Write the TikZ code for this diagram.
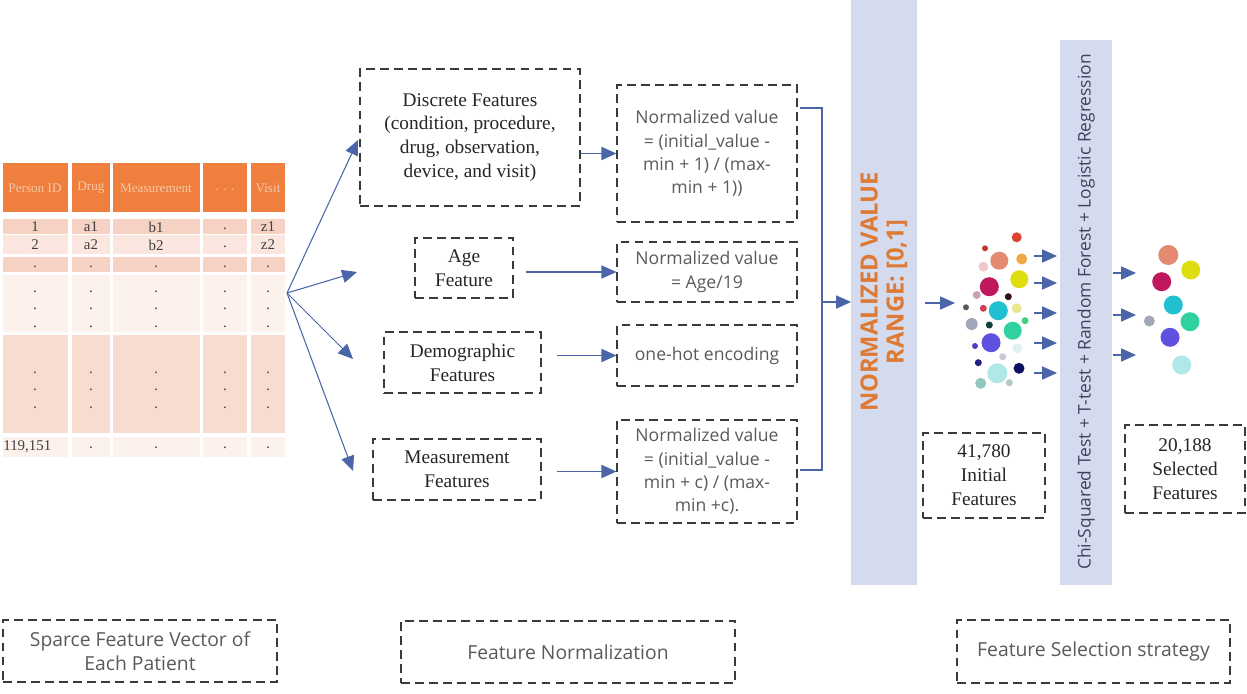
\documentclass[tikz,border=0pt]{standalone}
\usepackage{fontspec}
\setmainfont{Liberation Serif}
\newfontfamily\sansf{Open Sans}
\usetikzlibrary{arrows.meta}
\definecolor{arrowblue}{HTML}{4A66A8}
\definecolor{boxline}{HTML}{3A3A3A}
\definecolor{graytext}{HTML}{5A5A5A}
\definecolor{barfill}{HTML}{D5DBEE}
\definecolor{orangetxt}{HTML}{DE7A33}
\definecolor{hdr}{HTML}{EE7F3C}
\definecolor{hdrtxt}{HTML}{F8C8A8}
\definecolor{pinkA}{HTML}{F6D2C5}
\definecolor{pinkB}{HTML}{FBE7E0}
\definecolor{pinkC}{HTML}{FDF1EC}
\definecolor{pinkD}{HTML}{F9DCD1}
\definecolor{celltxt}{HTML}{404040}
\definecolor{bartxt}{HTML}{3C4260}
\tikzset{
  dbox/.style={draw=boxline, dash pattern=on 5pt off 3pt, line width=0.7pt, align=center, inner sep=1pt},
  serif/.style={font=\fontsize{11}{13.6}\selectfont, text=black!85},
  sanst/.style={font=\sansf\fontsize{10}{13.3}\selectfont, text=graytext},
  arr/.style={draw=arrowblue, line width=0.6pt, -{Triangle[length=8.5pt,width=7.5pt]}},
  cell/.style={font=\fontsize{8.5}{9}\selectfont, text=celltxt, inner sep=0pt},
  head/.style={font=\fontsize{7.5}{8}\selectfont, text=hdrtxt, inner sep=0pt},
}
\begin{document}
\begin{tikzpicture}[x=0.02cm,y=-0.02cm]
\useasboundingbox (0,0) rectangle (1247,693);
\fill[white] (0,0) rectangle (1247,693);

% ---------- table ----------
\foreach \xa/\xb in {3/68,72/110,113/200,203/247,251/285}{
  \fill[hdr] (\xa,163) rectangle (\xb,212);
  \fill[pinkA] (\xa,219) rectangle (\xb,234);
  \fill[pinkB] (\xa,235) rectangle (\xb,254);
  \fill[pinkA] (\xa,257) rectangle (\xb,272);
  \fill[pinkC] (\xa,275) rectangle (\xb,332);
  \fill[pinkD] (\xa,335) rectangle (\xb,433);
  \fill[pinkC] (\xa,437) rectangle (\xb,457);
}
\node[head] (h1) at (35,188) {Person ID};
\node[head] (h2) at (91,188) {Drug};
\node[head] (h3) at (156,188) {Measurement};
\node[head] (h4) at (225,190) {. . .};
\node[head] (h5) at (268,188) {Visit};
\node[cell] (c11) at (35,227) {1};
\node[cell] (c12) at (91,227) {a1};
\node[cell] (c13) at (156,227) {b1};
\node[cell] (c14) at (225,229) {.};
\node[cell] (c15) at (268,227) {z1};
\node[cell] (c21) at (35,245) {2};
\node[cell] (c22) at (91,245) {a2};
\node[cell] (c23) at (156,245) {b2};
\node[cell] (c24) at (225,247) {.};
\node[cell] (c25) at (268,245) {z2};
\foreach \yy in {267,292,309,327,373,390,408}{
  \foreach \xx in {35,91,156,225,268}{
    \node[cell] (d\xx-\yy) at (\xx,\yy) {.};
  }
}
\node[cell, anchor=west] (c61) at (3,447) {119,151};
\foreach \xx in {91,156,225,268}{
  \node[cell] (e\xx) at (\xx,448) {.};
}

% ---------- fan arrows ----------
\coordinate (fan) at (287,293);
\coordinate (t1) at (358,140);
\coordinate (t2) at (357,272);
\coordinate (t3) at (353,359);
\coordinate (t4) at (353,471);
\draw[arr] (fan) -- (t1);
\draw[arr] (fan) -- (t2);
\draw[arr] (fan) -- (t3);
\draw[arr] (fan) -- (t4);

% ---------- feature boxes ----------
\node[dbox, serif, minimum width=4.4cm, minimum height=2.74cm] (disc) at (470,137.5)
  {Discrete Features\\(condition, procedure,\\drug, observation,\\device, and visit)};
\node[dbox, serif, minimum width=1.96cm, minimum height=1.2cm] (age) at (464,268) {Age\\Feature};
\node[dbox, serif, minimum width=3.14cm, minimum height=1.22cm] (demo) at (462.5,362.5) {Demographic\\Features};
\node[dbox, serif, minimum width=3.36cm, minimum height=1.22cm] (meas) at (457,469.5) {Measurement\\Features};

% ---------- normalization boxes ----------
\node[dbox, sanst, minimum width=3.6cm, minimum height=2.74cm] (n1) at (707,153.5)
  {Normalized value\\= (initial\_value -\\min + 1) / (max-\\min + 1))};
\node[dbox, sanst, minimum width=3.6cm, minimum height=1.2cm] (an) at (707,272)
  {Normalized value\\= Age/19};
\node[dbox, sanst, minimum width=3.6cm, minimum height=1.22cm] (oh) at (707,355.5)
  {one-hot encoding};
\node[dbox, sanst, minimum width=3.6cm, minimum height=2.06cm] (mn) at (707,471.5)
  {Normalized value\\= (initial\_value -\\min + c) / (max-\\min +c).};

\draw[arr] (disc.east |- n1.west) -- (n1.west);
\draw[arr] ([xshift=0.24cm]age.east |- an.west) -- (an.west);
\draw[arr] ([xshift=0.3cm]demo.east |- oh.west) -- (oh.west);
\draw[arr] ([xshift=0.3cm]meas.east |- mn.west) -- (mn.west);

% ---------- bracket ----------
\coordinate (bt0) at (800,108);
\coordinate (bt1) at (822,108);
\coordinate (bb1) at (822,470);
\coordinate (bb0) at (800,470);
\coordinate (bm) at (822,302);
\draw[draw=arrowblue, line width=0.6pt] (bt0) -- (bt1) -- (bb1) -- (bb0);

% ---------- bar 1 ----------
\fill[barfill] (851,0) rectangle (917,585);
\coordinate (bar1w) at (851,302);
\coordinate (bar1e) at (917,303);
\node[rotate=90, align=center, text=orangetxt, font=\sansf\bfseries\fontsize{13.5}{14.8}\selectfont] (nv) at (884,292)
  {NORMALIZED VALUE\\RANGE: [0,1]};
\draw[arr] (bm) -- (bar1w);

% ---------- bubbles initial ----------
\foreach \bx/\by/\br/\bc in {
 1016.7/237.3/5/D9452F, 985/248.3/3/C0392B, 999.3/260.7/9/E38A70, 1021.7/259/5.5/F0A845,
 983.3/266.7/5/F0C8CC, 989.3/286.7/9.5/C0185F, 1019.3/279.3/9/DDDD10, 1008.3/296.7/3.5/301020,
 976.7/295/4/C8A0B8, 966/307.3/3/505860, 983.3/308.3/3.5/D04050, 998.3/310.7/9.5/20C0D0,
 1016.7/308.3/5/E8E890, 1025/320.7/3.5/40D080, 971.7/324/6/A0A8B8, 989.3/325/3.5/104040,
 1012.7/330.7/9/30D0A0, 991/342.7/9.5/6050E0, 975/346/3/5040C0, 1017.3/348.3/5/E0F0F0,
 978.3/362.7/3.5/202080, 1002.7/356.7/3.5/C8C8D8, 997.3/373.3/10/B0E8E8, 1019/368.3/5.5/101060,
 980.7/383.3/5.5/90C8C0, 1009.3/382.7/3.5/B8C8C8}{
  \definecolor{bub}{HTML}{\bc}
  \fill[bub] (\bx,\by) circle[radius=\br*0.02cm];
}
\coordinate (clin) at (955,303);
\draw[arr] ([xshift=0.16cm]bar1e) -- (clin);

% ---------- bar 2 ----------
\fill[barfill] (1060,40) rectangle (1112,585);
\node[rotate=90, text=bartxt, font=\sansf\fontsize{9.9}{12}\selectfont] (fs) at (1086,312)
  {Chi-Squared Test + T-test + Random Forest + Logistic Regression};
\foreach \yy in {256,283,313,343,373}{
  \coordinate (ca\yy) at (1034,\yy);
  \coordinate (cb\yy) at (1057,\yy);
  \draw[arr] (ca\yy) -- (cb\yy);
}
\foreach \yy in {273,315,355}{
  \coordinate (sa\yy) at (1113,\yy);
  \coordinate (sb\yy) at (1136,\yy);
  \draw[arr] (sa\yy) -- (sb\yy);
}

% ---------- bubbles selected ----------
\foreach \bx/\by/\br/\bc in {
 1168.3/255/10/E38A70, 1190.7/270/9.5/DDDD10, 1161.7/281.7/9.5/C0185F, 1173.3/305/9.5/20C0D0,
 1190/321.7/9.5/30D0A0, 1149.3/321/5.5/A0A8B8, 1170/337.3/9.5/6050E0, 1181.7/365/9.5/B0E8E8}{
  \definecolor{bub}{HTML}{\bc}
  \fill[bub] (\bx,\by) circle[radius=\br*0.02cm];
}

% ---------- count boxes ----------
\node[dbox, serif, minimum width=2.44cm, minimum height=1.7cm] (init) at (984,475.5) {41,780\\Initial\\Features};
\node[dbox, serif, minimum width=2.4cm, minimum height=1.76cm] (sel) at (1185,469) {20,188\\Selected\\Features};

% ---------- bottom labels ----------
\node[dbox, font=\sansf\fontsize{11}{14}\selectfont, text=graytext, minimum width=5.48cm, minimum height=1.24cm] (lab1) at (140,651)
  {Sparce Feature Vector of\\Each Patient};
\node[dbox, font=\sansf\fontsize{11}{14}\selectfont, text=graytext, minimum width=6.68cm, minimum height=1.24cm] (lab2) at (568,652)
  {Feature Normalization};
\node[dbox, font=\sansf\fontsize{11}{14}\selectfont, text=graytext, minimum width=5.46cm, minimum height=1.26cm] (lab3) at (1093.5,651.5)
  {Feature Selection strategy};
\end{tikzpicture}
\end{document}
